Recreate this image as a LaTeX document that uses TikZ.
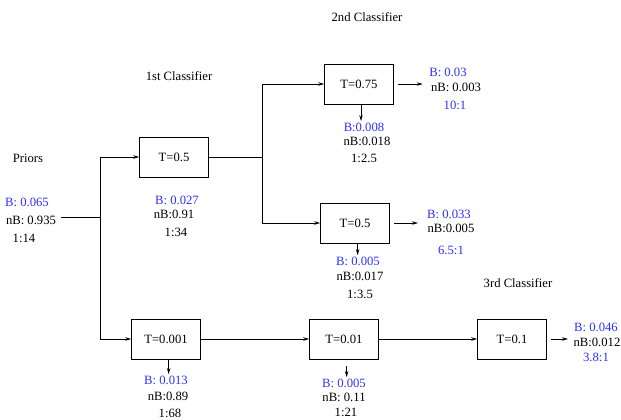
\documentclass[tikz,border=0pt]{standalone}
\usepackage{fontspec}
\setmainfont{Liberation Serif}
\usetikzlibrary{arrows.meta}
\definecolor{bval}{HTML}{2E2EFF}

\tikzset{
  clsbox/.style={draw,line width=0.7pt,minimum width=51.5pt,minimum height=30pt,inner sep=0pt},
  arr/.style={line width=0.6pt,-{Stealth[length=4.5pt,width=2.6pt]}},
  conn/.style={line width=0.6pt},
  val/.style={inner sep=1pt},
  bv/.style={val,text=bval},
}

\begin{document}
\begin{tikzpicture}[x=0.75pt,y=-0.75pt,font=\fontsize{9.5}{11}\selectfont]
\useasboundingbox (0,0) rectangle (621,420);

% titles
\node (title1) at (179,76) {1st Classifier};
\node (title2) at (367,17) {2nd Classifier};
\node (title3) at (518,283) {3rd Classifier};

% priors
\node (priors) at (28,158) {Priors};
\node[bv] (pb) at (27,202) {B: 0.065};
\node[val] (pnb) at (31,220) {nB: 0.935};
\node[val] (pr) at (24,238) {1:14};

% classifier boxes
\node[clsbox] (t1) at (174,157) {T=0.5};
\node[clsbox] (t2) at (359,84) {T=0.75};
\node[clsbox] (t3) at (355,223) {T=0.5};
\node[clsbox] (t4) at (166,339) {T=0.001};
\node[clsbox] (t5) at (344,339) {T=0.01};
\node[clsbox] (t6) at (512,339) {T=0.1};

% branch points
\coordinate (s0) at (100,217);
\coordinate (s1) at (262,157);

% connectors
\draw[conn] (pnb.east) ++(3,-3) -- (s0);
\draw[conn] (s0 |- t1) -- (s0 |- t4);
\draw[arr] (s0 |- t1) -- (t1.west);
\draw[arr] (s0 |- t4) -- (t4.west);
\draw[conn] (t1.east) -- (s1);
\draw[conn] (s1 |- t2) -- (s1 |- t3);
\draw[arr] (s1 |- t2) -- (t2.west);
\draw[arr] (s1 |- t3) -- (t3.west);
\draw[arr] (t4.east) -- (t5.west);
\draw[arr] (t5.east) -- (t6.west);

% values below the first classifier
\node[bv] (t1b) at (177,200) {B: 0.027};
\node[val] (t1nb) at (174,214) {nB:0.91};
\node[val] (t1r) at (176,232) {1:34};

% T=0.75 outputs
\node[bv] (t2pb) at (448,72) {B: 0.03};
\node[val] (t2pnb) at (456,87) {nB: 0.003};
\node[bv] (t2pr) at (455,105) {10:1};
\node[bv] (t2b) at (364,127) {B:0.008};
\node[val] (t2nb) at (367,141) {nB:0.018};
\node[val] (t2r) at (364,158) {1:2.5};
\draw[arr] ([xshift=3pt]t2.east) -- ([xshift=-5pt]t2pnb.west |- t2.east);
\draw[arr] ([xshift=1.5pt]t2.south) -- ([xshift=1.5pt]t2.south |- t2b.north);

% T=0.5 outputs
\node[bv] (t3pb) at (449,214) {B: 0.033};
\node[val] (t3pnb) at (451,228) {nB:0.005};
\node[bv] (t3pr) at (451,250) {6.5:1};
\node[bv] (t3b) at (358,261) {B: 0.005};
\node[val] (t3nb) at (360,276) {nB:0.017};
\node[val] (t3r) at (360,294) {1:3.5};
\draw[arr] ([xshift=3pt]t3.east) -- ([xshift=-6pt]t3pnb.west |- t3.east);
\draw[arr] ([xshift=2pt]t3.south) -- ([xshift=2pt]t3.south |- t3b.north);

% T=0.001 outputs
\node[bv] (t4b) at (166,380) {B: 0.013};
\node[val] (t4nb) at (168,396) {nB:0.89};
\node[val] (t4r) at (170,413) {1:68};
\draw[arr] ([xshift=2pt]t4.south) -- ([xshift=2pt]t4.south |- t4b.north);

% T=0.01 outputs
\node[bv] (t5b) at (344,383) {B: 0.005};
\node[val] (t5nb) at (344,397) {nB: 0.11};
\node[val] (t5r) at (346,412) {1:21};
\draw[arr] ([xshift=2pt,yshift=-5pt]t5.south) -- ([xshift=2pt]t5.south |- t5b.north);

% T=0.1 outputs
\node[bv] (t6pb) at (596,327) {B: 0.046};
\node[val] (t6pnb) at (597,342) {nB:0.012};
\node[bv] (t6pr) at (596,357) {3.8:1};
\draw[arr] ([xshift=3pt]t6.east) -- ([xshift=-3pt]t6pnb.west |- t6.east);
\end{tikzpicture}
\end{document}
